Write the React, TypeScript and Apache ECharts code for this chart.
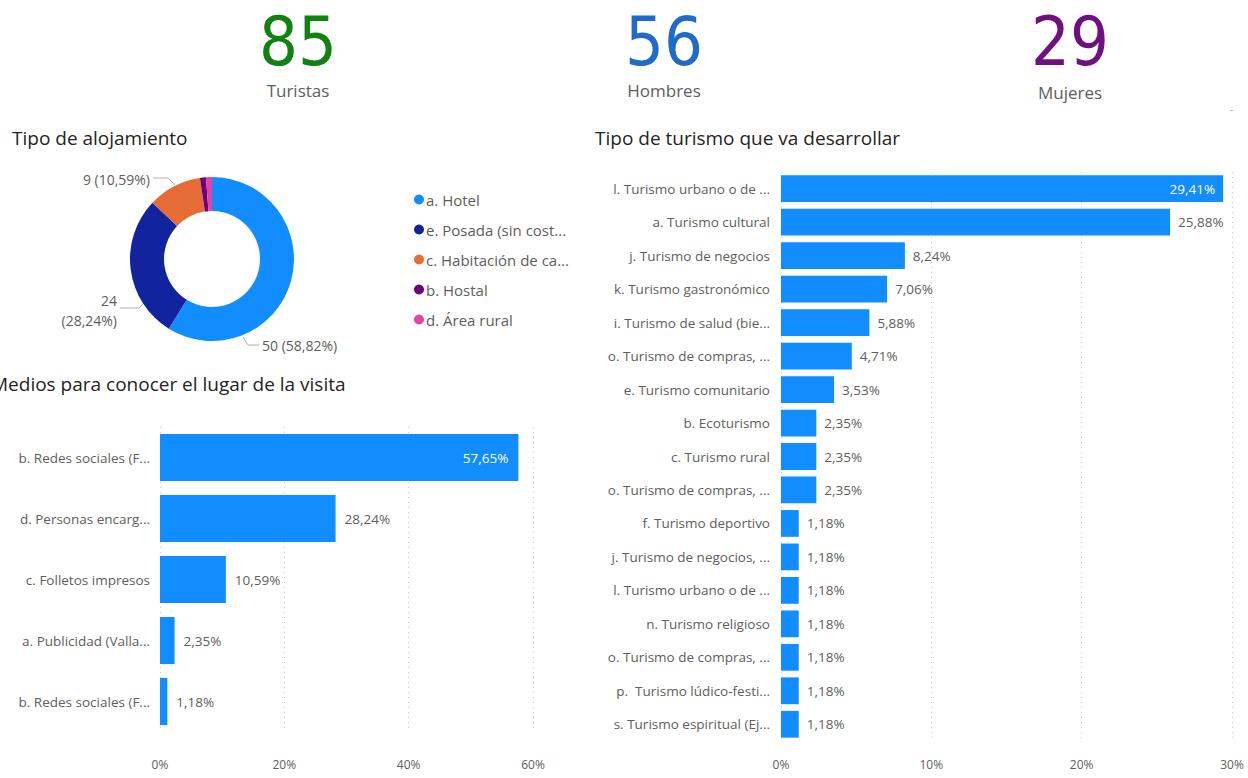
import React, { useEffect, useRef } from "react";
import * as echarts from "echarts";

const kpiValues = ["85", "56", "29"];
const kpiLabels = ["Turistas", "Hombres", "Mujeres"];
const kpiColors = ["#118111", "#1F6BC7", "#6E1080"];

const lodgingNames = [
  "a. Hotel",
  "e. Posada (sin cost...",
  "c. Habitación de ca...",
  "b. Hostal",
  "d. Área rural",
];
const lodgingValues = [50, 24, 9, 1, 1];
const lodgingColors = ["#118DFF", "#12239E", "#E66C37", "#6B007B", "#E044A7"];

const mediaCategories = [
  "b. Redes sociales (F...",
  "d. Personas encarg...",
  "c. Folletos impresos",
  "a. Publicidad (Valla...",
  "b. Redes sociales (F...",
];
const mediaValues = [57.65, 28.24, 10.59, 2.35, 1.18];
const mediaTicks = [0, 20, 40, 60];

const tourismCategories = [
  "l. Turismo urbano o de ...",
  "a. Turismo cultural",
  "j. Turismo de negocios",
  "k. Turismo gastronómico",
  "i. Turismo de salud (bie...",
  "o. Turismo de compras, ...",
  "e. Turismo comunitario",
  "b. Ecoturismo",
  "c. Turismo rural",
  "o. Turismo de compras, ...",
  "f. Turismo deportivo",
  "j. Turismo de negocios, ...",
  "l. Turismo urbano o de ...",
  "n. Turismo religioso",
  "o. Turismo de compras, ...",
  "p.  Turismo lúdico-festi...",
  "s. Turismo espiritual (Ej...",
];
const tourismValues = [
  29.41, 25.88, 8.24, 7.06, 5.88, 4.71, 3.53, 2.35, 2.35, 2.35, 1.18, 1.18,
  1.18, 1.18, 1.18, 1.18, 1.18,
];
const tourismTicks = [0, 10, 20, 30];

const FONT = "'Open Sans', 'Noto Sans', sans-serif";
const LABEL = "#605E5C";
const TITLE = "#252423";
const BAR = "#118DFF";

const pct = (v: number) => v.toFixed(2).replace(".", ",") + "%";

// placement of the donut's outside labels (Power BI style)
const pieLabelLayout: Record<number, any> = {
  0: { x: 262, y: 345, align: "left", line: [[243, 337], [248, 345], [259, 345]] },
  1: { x: 117, y: 310, align: "right", line: [[143, 304], [139, 308], [120, 308]] },
  2: { x: 150, y: 179, align: "right", line: [[175, 185], [168, 178], [153, 178]] },
};

export default function App() {
  const ref = useRef<HTMLDivElement>(null);
  useEffect(() => {
    document.body.style.margin = "0";
    const chart = echarts.init(ref.current!, null, { renderer: "svg" });
    const kpiX = [298, 664, 1070];
    const total = lodgingValues.reduce((a, b) => a + b, 0);

    const graphics: any[] = [];
    kpiValues.forEach((v, i) => {
      graphics.push({
        type: "text",
        x: kpiX[i],
        y: 41,
        style: {
          text: v,
          fill: kpiColors[i],
          font: "68px 'Liberation Sans Narrow', 'DejaVu Sans Condensed', sans-serif",
          align: "center",
          verticalAlign: "middle",
        },
      });
      graphics.push({
        type: "text",
        x: kpiX[i],
        y: i === 2 ? 92 : 90,
        style: {
          text: kpiLabels[i],
          fill: LABEL,
          font: `17px ${FONT}`,
          align: "center",
          verticalAlign: "middle",
        },
      });
    });
    graphics.push({
      type: "text",
      x: 1230,
      y: 104,
      style: { text: "-", fill: "#999", font: `10px ${FONT}` },
    });
    const titles = [
      { text: "Tipo de alojamiento", x: 12, y: 138 },
      { text: "Medios para conocer el lugar de la visita", x: -9, y: 384 },
      { text: "Tipo de turismo que va desarrollar", x: 595, y: 138 },
    ];
    titles.forEach((t) =>
      graphics.push({
        type: "text",
        x: t.x,
        y: t.y,
        style: {
          text: t.text,
          fill: TITLE,
          font: `19px ${FONT}`,
          verticalAlign: "middle",
        },
      })
    );

    const catAxisCommon = {
      type: "category" as const,
      inverse: true,
      axisLine: { show: false },
      axisTick: { show: false },
    };
    const valAxisCommon = {
      type: "value" as const,
      min: 0,
      axisLine: { show: false },
      axisTick: { show: false },
      splitLine: {
        show: true,
        lineStyle: { color: "#C8C6C4", type: [1, 4] as any, width: 1 },
      },
    };

    chart.setOption({
      animation: false,
      textStyle: { fontFamily: FONT },
      graphic: graphics,
      legend: {
        orient: "vertical",
        left: 409,
        top: 187,
        itemGap: 15,
        icon: "circle",
        itemWidth: 10,
        itemHeight: 10,
        textStyle: { color: LABEL, fontSize: 15, fontFamily: FONT, padding: [0, 0, 0, -3] },
        data: lodgingNames,
      },
      grid: [
        { left: 160, right: 715, top: 427, bottom: 46 },
        { left: 781, right: 16, top: 172, bottom: 37 },
      ],
      xAxis: [
        {
          ...valAxisCommon,
          gridIndex: 0,
          max: mediaTicks[mediaTicks.length - 1],
          interval: mediaTicks[1] - mediaTicks[0],
          axisLabel: {
            formatter: "{value}%",
            color: LABEL,
            fontSize: 12,
            margin: 26,
          },
        },
        {
          ...valAxisCommon,
          gridIndex: 1,
          max: tourismTicks[tourismTicks.length - 1],
          interval: tourismTicks[1] - tourismTicks[0],
          axisLabel: {
            formatter: "{value}%",
            color: LABEL,
            fontSize: 12,
            margin: 17,
          },
        },
      ],
      yAxis: [
        {
          ...catAxisCommon,
          gridIndex: 0,
          data: mediaCategories,
          axisLabel: { color: LABEL, fontSize: 13.5, margin: 10 },
        },
        {
          ...catAxisCommon,
          gridIndex: 1,
          data: tourismCategories,
          axisLabel: { color: LABEL, fontSize: 13.5, margin: 11 },
        },
      ],
      series: [
        {
          type: "pie",
          center: [212, 259],
          radius: [48, 82],
          startAngle: 90,
          legendHoverLink: false,
          label: {
            color: LABEL,
            fontSize: 14,
            lineHeight: 20,
            fontFamily: FONT,
            formatter: (p: any) => {
              const s = pct((p.value / total) * 100);
              return p.dataIndex === 1 ? `${p.value}\n(${s})` : `${p.value} (${s})`;
            },
          },
          labelLine: { length: 10, length2: 14, lineStyle: { color: "#B3B0AD" } },
          labelLayout: (params: any) => {
            const l = pieLabelLayout[params.dataIndex];
            if (!l) return {};
            return {
              x: l.x,
              y: l.y,
              align: l.align,
              verticalAlign: "middle",
              labelLinePoints: l.line,
            };
          },
          data: lodgingNames.map((n, i) => ({
            name: n,
            value: lodgingValues[i],
            itemStyle: { color: lodgingColors[i] },
            label: { show: i < 3 },
            labelLine: { show: i < 3 },
          })),
        },
        {
          type: "bar",
          xAxisIndex: 0,
          yAxisIndex: 0,
          barCategoryGap: "23%",
          itemStyle: { color: BAR },
          data: mediaValues.map((v, i) => ({
            value: v,
            label: {
              show: true,
              position: i === 0 ? "insideRight" : "right",
              color: i === 0 ? "#FFFFFF" : LABEL,
              fontSize: 13.5,
              distance: i === 0 ? 10 : 9,
              formatter: (p: any) => pct(p.value),
            },
          })),
        },
        {
          type: "bar",
          xAxisIndex: 1,
          yAxisIndex: 1,
          barCategoryGap: "20%",
          itemStyle: { color: BAR },
          data: tourismValues.map((v, i) => ({
            value: v,
            label: {
              show: true,
              position: i === 0 ? "insideRight" : "right",
              color: i === 0 ? "#FFFFFF" : LABEL,
              fontSize: 13.5,
              distance: 8,
              formatter: (p: any) => pct(p.value),
            },
          })),
        },
      ],
    });
    return () => chart.dispose();
  }, []);
  return (
    <div
      ref={ref}
      style={{ position: "fixed", left: 0, top: 0, width: 1248, height: 778, background: "#fff" }}
    />
  );
}
